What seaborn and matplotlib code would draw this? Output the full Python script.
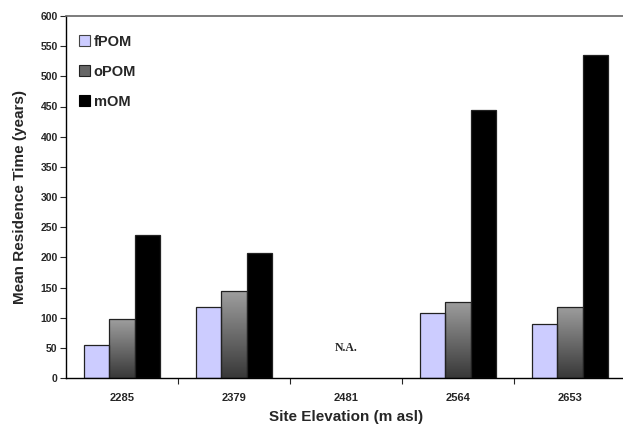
import numpy as np
import pandas as pd
import seaborn as sns
import matplotlib
matplotlib.use('Agg')
import matplotlib.pyplot as plt
from matplotlib.patches import Patch

# values
sites = ['2285', '2379', '2481', '2564', '2653']
fpom = [55, 118, np.nan, 108, 90]
opom = [97, 144, np.nan, 126, 118]
mom = [237, 207, np.nan, 444, 535]
fractions = ['fPOM', 'oPOM', 'mOM']
y_ticks = list(range(0, 601, 50))

df = pd.DataFrame({'site': sites * 3,
                   'fraction': ['fPOM'] * 5 + ['oPOM'] * 5 + ['mOM'] * 5,
                   'mrt': fpom + opom + mom})

sns.set_style('white')
plt.rcParams['font.family'] = ['Liberation Sans', 'DejaVu Sans']
plt.rcParams['font.weight'] = 'bold'

fig = plt.figure(figsize=(6.23, 4.28), dpi=100)
ax = fig.add_axes([66 / 623, 50 / 428, 560 / 623, 362 / 428])

pal = {'fPOM': '#ccccff', 'oPOM': '#808080', 'mOM': '#000000'}
sns.barplot(data=df, x='site', y='mrt', hue='fraction', order=sites,
            hue_order=fractions, palette=pal, width=0.67, gap=0,
            saturation=1, edgecolor='#222222', linewidth=0.9,
            legend=False, ax=ax)

# gradient fill for the oPOM bars
grad = np.linspace(0.62, 0.22, 256).reshape(-1, 1)
for bar in ax.containers[1]:
    if np.isnan(bar.get_height()) or bar.get_height() == 0:
        continue
    x0, w, h = bar.get_x(), bar.get_width(), bar.get_height()
    bar.set_facecolor('none')
    im = ax.imshow(grad, cmap='gray', vmin=0, vmax=1,
                   extent=[x0, x0 + w, 0, h], aspect='auto',
                   zorder=bar.get_zorder() - 0.1, origin='upper')
    im.set_clip_path(bar)

ax.set_xlim(-0.5, 4.5)
ax.set_ylim(0, 600)
ax.set_yticks(y_ticks)
ax.tick_params(axis='y', labelsize=7.5, length=4, width=0.8, direction='out', left=True, pad=2)
ax.set_xticks(range(len(sites)))
ax.set_xticklabels(sites, fontsize=8, fontweight='bold')
ax.tick_params(axis='x', length=0, pad=11)
ax.set_xticks([0.5, 1.5, 2.5, 3.5], minor=True)
ax.tick_params(axis='x', which='minor', length=4, width=0.8, direction='out', bottom=True)

for s in ['left', 'bottom']:
    ax.spines[s].set_color('black')
    ax.spines[s].set_linewidth(1)
ax.spines['top'].set_color('#666666')
ax.spines['top'].set_linewidth(1.2)
ax.spines['right'].set_visible(False)

ax.set_xlabel('Site Elevation (m asl)', fontsize=11, fontweight='bold', labelpad=5)
ax.set_ylabel('Mean Residence Time (years)', fontsize=11, fontweight='bold', labelpad=10)

ax.text(2, 50, 'N.A.', ha='center', va='center', fontsize=8.5,
        fontweight='bold', family='Liberation Serif')

handles = [Patch(facecolor='#ccccff', edgecolor='#444444', linewidth=0.8),
           Patch(facecolor='#666666', edgecolor='#222222', linewidth=0.8),
           Patch(facecolor='black', edgecolor='black', linewidth=0.8)]
ax.legend(handles, fractions, loc='upper left', bbox_to_anchor=(0.0, 0.985),
          frameon=False, handlelength=0.75, handleheight=0.75,
          handletextpad=0.25, labelspacing=1.1, prop={'weight': 'bold', 'size': 10.5})

fig.savefig('out.png', dpi=100)
